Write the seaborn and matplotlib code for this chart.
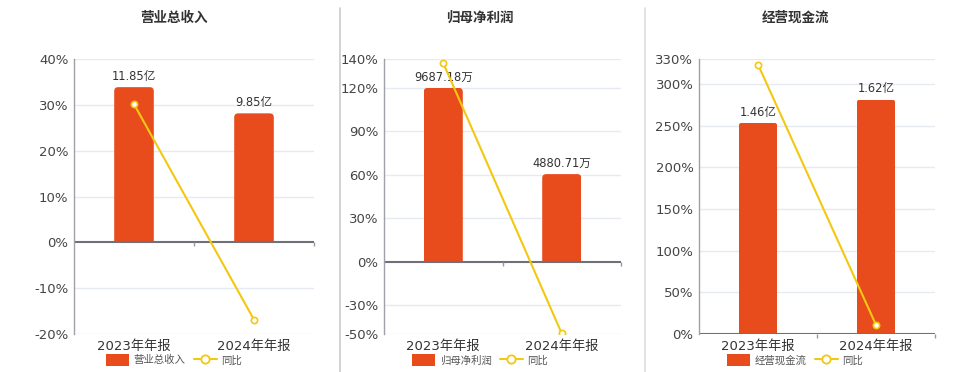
import matplotlib
matplotlib.use('Agg')
import matplotlib.pyplot as plt
from matplotlib.lines import Line2D
from matplotlib.patches import Patch, FancyBboxPatch
import seaborn as sns
import pandas as pd

# ── Data ─────────────────────────────────────────────────────
categories = ['2023年年报', '2024年年报']
yoy_label = '同比'

titles = ['营业总收入', '归母净利润', '经营现金流']
units = ['亿', '万', '亿']

revenue = [11.85, 9.85]
revenue_yoy = [30.15, -16.88]
profit = [9687.18, 4880.71]
profit_yoy = [137.2, -49.62]
cashflow = [1.46, 1.62]
cashflow_yoy = [323.4, 10.96]

pct_ticks = [[-20, -10, 0, 10, 20, 30, 40],
             [-50, -30, 0, 30, 60, 90, 120, 140],
             [0, 50, 100, 150, 200, 250, 300, 330]]

# ── Style ────────────────────────────────────────────────────
BAR = '#E84C1D'
LINE = '#F2C811'
GRID = '#E6EAF2'
TXT = '#333333'
W, H = 960, 372

sns.set_theme(style='white')
plt.rcParams['font.family'] = ['DejaVu Sans', 'Noto Sans CJK SC']
plt.rcParams['ytick.major.size'] = 0
plt.rcParams['ytick.minor.size'] = 0
plt.rcParams['xtick.major.size'] = 0

fig = plt.figure(figsize=(W / 100, H / 100), dpi=100)

# panel geometry in pixels: left, right, top, bottom, centre
panels = [(74, 314, 59, 334, 174),
          (384, 621, 59, 334, 480),
          (699, 935, 59, 334, 795)]
bar_tops = [14, 11300, 1.9]   # secondary scale top for bars

series = [(revenue, revenue_yoy), (profit, profit_yoy), (cashflow, cashflow_yoy)]


def round_tops(ax, px_w, px_h, radius_px=4):
    # swap plain rectangles for ones with rounded top corners
    x0, x1 = ax.get_xlim()
    y0, y1 = ax.get_ylim()
    xpp = (x1 - x0) / px_w
    ypp = (y1 - y0) / px_h
    rs = radius_px * xpp
    for p in list(ax.patches):
        x, y = p.get_x(), p.get_y()
        w, h = p.get_width(), p.get_height()
        fb = FancyBboxPatch((x, y - radius_px * ypp), w,
                            h + radius_px * ypp,
                            boxstyle=f'round,pad=0,rounding_size={rs}',
                            mutation_aspect=ypp / xpp,
                            facecolor=p.get_facecolor(), edgecolor='none',
                            zorder=p.get_zorder())
        ax.add_patch(fb)
        fb.set_clip_path(p)
        p.set_visible(False)


for i, ((vals, yoy), ticks, (l, r, t, b, cx)) in enumerate(
        zip(series, pct_ticks, panels)):
    rect = [l / W, 1 - b / H, (r - l) / W, (b - t) / H]
    ax = fig.add_axes(rect)

    df = pd.DataFrame({'cat': categories, 'val': vals})
    sns.barplot(data=df, x='cat', y='val', ax=ax, color=BAR,
                width=0.33, saturation=1, zorder=2)
    top = bar_tops[i]
    lo = top * ticks[0] / ticks[-1]
    ax.set_xlim(-0.5, 1.5)
    ax.set_ylim(lo, top)
    ax.set_yticks([tk * top / ticks[-1] for tk in ticks if tk != 0])
    ax.grid(axis='y', color=GRID, lw=1)
    ax.set_axisbelow(True)
    ax.tick_params(axis='y', which='both', left=False, right=False,
                   labelleft=False, length=0)
    ax.tick_params(axis='x', length=0, pad=4, labelsize=9.5, colors=TXT)
    ax.set_xlabel('')
    ax.set_ylabel('')
    for s in ax.spines.values():
        s.set_visible(False)

    ax.bar_label(ax.containers[0],
                 labels=[f'{v:.2f}{units[i]}' for v in vals],
                 padding=3, fontsize=8.3, color=TXT)
    round_tops(ax, r - l, b - t)

    # zero line + category boundary ticks
    ax.axhline(0, color='#707078', lw=1.5, zorder=3)
    dy = (top - lo) * 4 / (b - t)
    ax.vlines([0.5, 1.5], -dy, 0, color='#999999', lw=1,
              clip_on=False, zorder=3)

    # percent axis with the yoy line
    ax2 = ax.twinx()
    sns.lineplot(data=pd.DataFrame({'cat': categories, 'yoy': yoy}),
                 x='cat', y='yoy', ax=ax2, color=LINE, lw=1.5,
                 marker='o', ms=4.5, mfc='white', mec=LINE, mew=1.2,
                 sort=False)
    ax2.yaxis.tick_left()
    ax2.set_ylim(ticks[0], ticks[-1])
    ax2.set_yticks(ticks)
    ax2.set_yticklabels([f'{tk}%' for tk in ticks])
    ax2.tick_params(axis='y', which='both', length=0, width=0, pad=4,
                    labelsize=9.5, colors='#444444')
    ax2.set_ylabel('')
    ax2.set_xlabel('')
    for k, s in ax2.spines.items():
        s.set_visible(k == 'left')
    ax2.spines['left'].set_color('#A0A0A8')
    ax2.spines['left'].set_linewidth(1)

    # legend
    handles = [Patch(facecolor=BAR, edgecolor='none'),
               Line2D([], [], color=LINE, lw=1.5, marker='o', ms=6,
                      mfc='white', mec=LINE, mew=1.3)]
    leg = ax2.legend(handles, [titles[i], yoy_label], loc='center',
                     bbox_to_anchor=(cx / W, 1 - 360 / H),
                     bbox_transform=fig.transFigure, ncol=2,
                     frameon=False, fontsize=7.5, handlelength=2.2,
                     handleheight=1.3, columnspacing=0.8,
                     handletextpad=0.4)
    for txt in leg.get_texts():
        txt.set_color('#555555')

    fig.text(cx / W, 1 - 18 / H, titles[i], ha='center', va='center',
             fontsize=9.75, fontweight='bold', color=TXT,
             family=['Noto Sans CJK SC', 'DejaVu Sans'])

# panel separators
for x, c in ((340, '#CCCCCC'), (645, '#DDDDDD')):
    fig.add_artist(Line2D([x / W, x / W], [0, 1 - 8 / H],
                          color=c, lw=1.2))

fig.savefig('out.png', dpi=100)
